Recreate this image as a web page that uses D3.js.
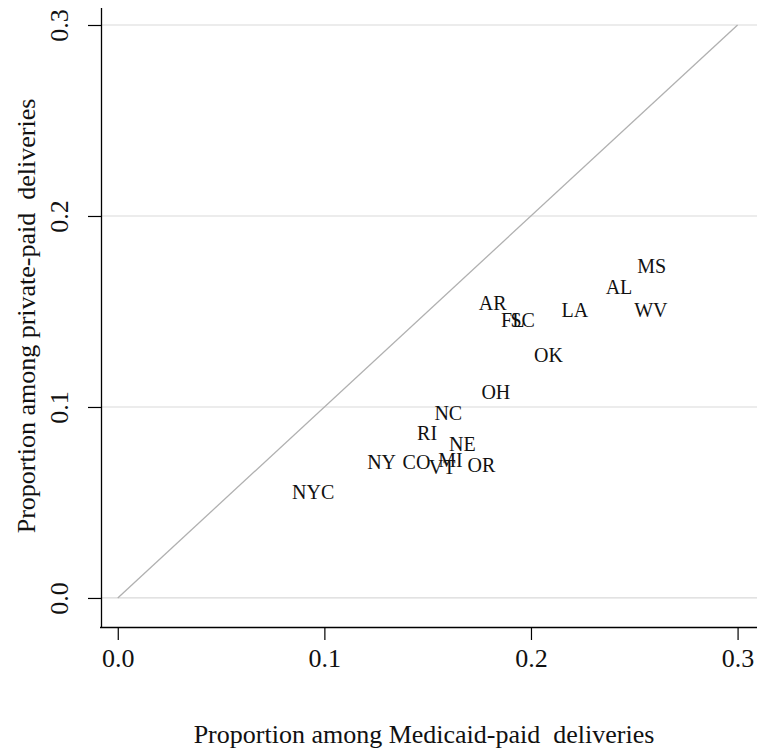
<!DOCTYPE html>
<html><head><meta charset="utf-8">
<script src="https://cdn.jsdelivr.net/npm/d3@7"></script>
<style>body{margin:0;background:#fff}svg{display:block}text{font-family:"Liberation Serif","Times New Roman",serif;white-space:pre}</style>
</head><body>
<svg id="c" width="757" height="755"></svg>
<script>
const states = ["MS","AL","WV","LA","AR","FL","SC","OK","OH","NC","RI","NE","NY","CO","MI","VT","OR","NYC"];
const medicaid = [0.2584,0.2426,0.2580,0.2212,0.1815,0.1912,0.1960,0.2085,0.1830,0.1600,0.1497,0.1668,0.1277,0.1446,0.1610,0.1570,0.1760,0.0946];
const privatePaid = [0.1738,0.1628,0.1508,0.1508,0.1545,0.1455,0.1455,0.1272,0.1080,0.0967,0.0866,0.0805,0.0714,0.0714,0.0723,0.0687,0.0696,0.0557];
const xTicks = [0.0,0.1,0.2,0.3];
const yTicks = [0.0,0.1,0.2,0.3];
const xTitle = "Proportion among Medicaid-paid  deliveries";
const yTitle = "Proportion among private-paid  deliveries";

const svg = d3.select("#c");
const x = d3.scaleLinear().domain([-0.0086,0.3094]).range([100,757]);
const y = d3.scaleLinear().domain([-0.0152,0.3089]).range([627,8]);

svg.append("g").selectAll("line").data(yTicks).join("line")
  .attr("x1",101).attr("x2",757).attr("y1",d=>y(d)).attr("y2",d=>y(d))
  .attr("stroke","#d9d9d9").attr("stroke-width",1.2);

svg.append("line").attr("x1",x(0)).attr("y1",y(0)).attr("x2",x(0.3)).attr("y2",y(0.3))
  .attr("stroke","#b0b0b0").attr("stroke-width",1.3);

const xa = svg.append("g").attr("transform","translate(0,627)")
  .call(d3.axisBottom(x).tickValues(xTicks).tickFormat(d3.format(".1f")).tickSize(13).tickSizeOuter(0));
const ya = svg.append("g").attr("transform","translate(101,0)")
  .call(d3.axisLeft(y).tickValues(yTicks).tickFormat(d3.format(".1f")).tickSize(13).tickSizeOuter(0));
[xa,ya].forEach(a=>{
  a.select(".domain").attr("stroke","#000").attr("stroke-width",1.3);
  a.selectAll(".tick line").attr("stroke","#000").attr("stroke-width",1.2);
  a.selectAll(".tick text").attr("font-size",26).attr("fill","#111");
});
xa.select(".domain").attr("d","M100,0.5H757");
ya.select(".domain").attr("d","M0.5,8V627");
xa.selectAll(".tick text").attr("dy",null).attr("y",40);
ya.selectAll(".tick text").attr("x",null).attr("dy",null)
  .attr("transform","translate(-39,0) rotate(-90)").attr("text-anchor","middle").attr("dominant-baseline","middle");

svg.append("g").selectAll("text").data(states).join("text")
  .attr("x",(d,i)=>x(medicaid[i])).attr("y",(d,i)=>y(privatePaid[i]))
  .attr("text-anchor","middle").attr("dominant-baseline","central")
  .attr("font-size",20).attr("fill","#111").text(d=>d);

svg.append("text").attr("x",424).attr("y",743).attr("text-anchor","middle")
  .attr("font-size",26).attr("fill","#111").text(xTitle);
svg.append("text").attr("transform","translate(35,316) rotate(-90)").attr("text-anchor","middle")
  .attr("font-size",26).attr("fill","#111").text(yTitle);
</script>
</body></html>
